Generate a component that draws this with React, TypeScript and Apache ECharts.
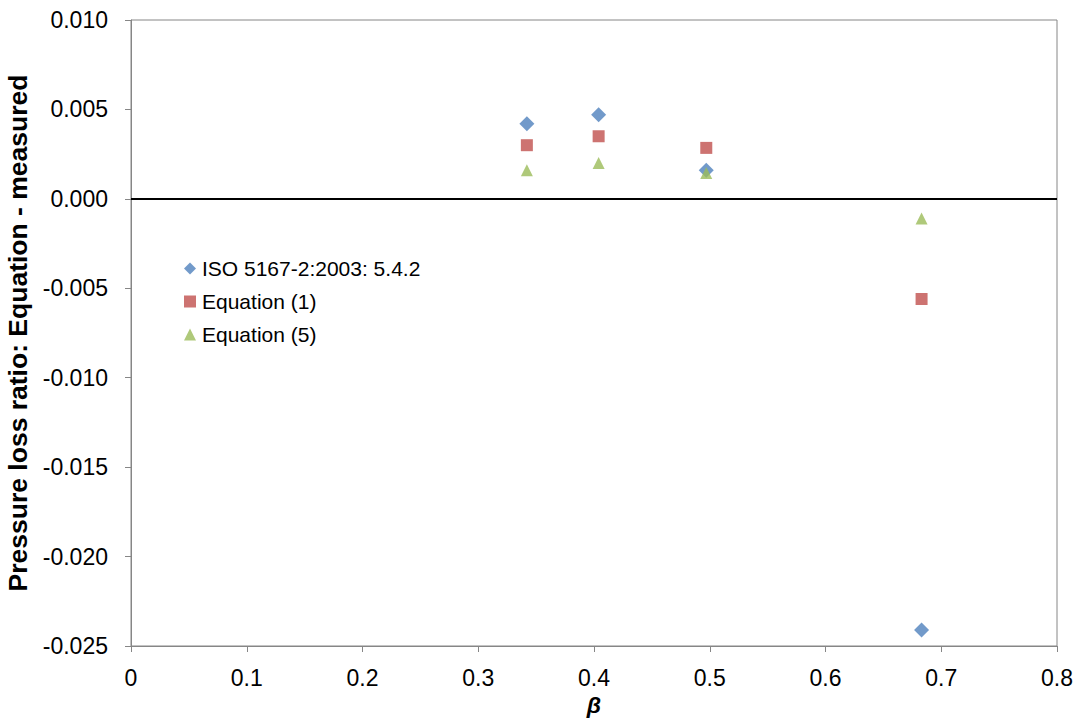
import React, { useEffect, useRef } from "react";
import * as echarts from "echarts";

const betaValues = [0.342, 0.404, 0.497, 0.683];
const isoValues = [0.0042, 0.0047, 0.0016, -0.0241];
const eq1Values = [0.003, 0.0035, 0.00285, -0.0056];
const eq5Values = [0.0016, 0.002, 0.00145, -0.0011];
const seriesNames = ["ISO 5167-2:2003: 5.4.2", "Equation (1)", "Equation (5)"];

export default function App() {
  const ref = useRef<HTMLDivElement>(null);
  useEffect(() => {
    if (!ref.current) return;
    const chart = echarts.init(ref.current, null, { renderer: "svg" });
    const font = "Liberation Sans, Arial, sans-serif";
    const toPairs = (ys: number[]) => betaValues.map((x, i) => [x, ys[i]]);
    chart.setOption({
      animation: false,
      backgroundColor: "#ffffff",
      grid: {
        left: 131,
        right: 21,
        top: 20,
        bottom: 74,
        containLabel: false,
        outerBoundsMode: "none",
        show: true,
        borderColor: "#868686",
        borderWidth: 1,
      },
      legend: {
        orient: "vertical",
        left: 179,
        top: 253,
        itemWidth: 12,
        itemHeight: 12,
        itemGap: 12,
        textStyle: { fontFamily: font, fontSize: 21, color: "#000", padding: [0, 0, 0, 1] },
        data: [
          { name: seriesNames[0], icon: "diamond" },
          { name: seriesNames[1], icon: "rect" },
          { name: seriesNames[2], icon: "triangle" },
        ],
      },
      xAxis: {
        type: "value",
        min: 0,
        max: 0.8,
        interval: 0.1,
        name: "β",
        nameLocation: "middle",
        nameGap: 45,
        nameTextStyle: { fontFamily: font, fontSize: 23, fontWeight: "bold", fontStyle: "italic", color: "#000" },
        axisLine: { onZero: false, lineStyle: { color: "#868686" } },
        axisTick: { show: true, length: 6, lineStyle: { color: "#868686" } },
        splitLine: { show: false },
        axisLabel: {
          fontFamily: font,
          fontSize: 23,
          color: "#000",
          margin: 20,
          formatter: (v: number) => (v === 0 ? "0" : v.toFixed(1)),
        },
      },
      yAxis: {
        type: "value",
        min: -0.025,
        max: 0.01,
        interval: 0.005,
        name: "Pressure loss ratio: Equation - measured",
        nameLocation: "middle",
        nameGap: 93,
        nameTextStyle: { fontFamily: font, fontSize: 26.5, fontWeight: "bold", color: "#000" },
        axisLine: { show: true, lineStyle: { color: "#868686" } },
        axisTick: { show: true, length: 6, lineStyle: { color: "#868686" } },
        splitLine: { show: false },
        axisLabel: {
          fontFamily: font,
          fontSize: 23,
          color: "#000",
          margin: 23,
          formatter: (v: number) => v.toFixed(3),
        },
      },
      series: [
        {
          name: seriesNames[0],
          type: "scatter",
          symbol: "diamond",
          symbolSize: 15,
          itemStyle: { color: "#4F81BD" },
          data: toPairs(isoValues),
          z: 3,
          markLine: {
            silent: true,
            symbol: "none",
            label: { show: false },
            lineStyle: { color: "#000", width: 2, type: "solid" },
            data: [{ yAxis: 0 }],
          },
        },
        {
          name: seriesNames[1],
          type: "scatter",
          symbol: "rect",
          symbolSize: 12,
          itemStyle: { color: "#C0504D" },
          data: toPairs(eq1Values),
          z: 4,
        },
        {
          name: seriesNames[2],
          type: "scatter",
          symbol: "triangle",
          symbolSize: 12,
          itemStyle: { color: "#9BBB59" },
          data: toPairs(eq5Values),
          z: 5,
        },
      ],
    });
    return () => chart.dispose();
  }, []);
  return <div ref={ref} style={{ width: 1078, height: 720, position: "absolute", left: 0, top: 0 }} />;
}
